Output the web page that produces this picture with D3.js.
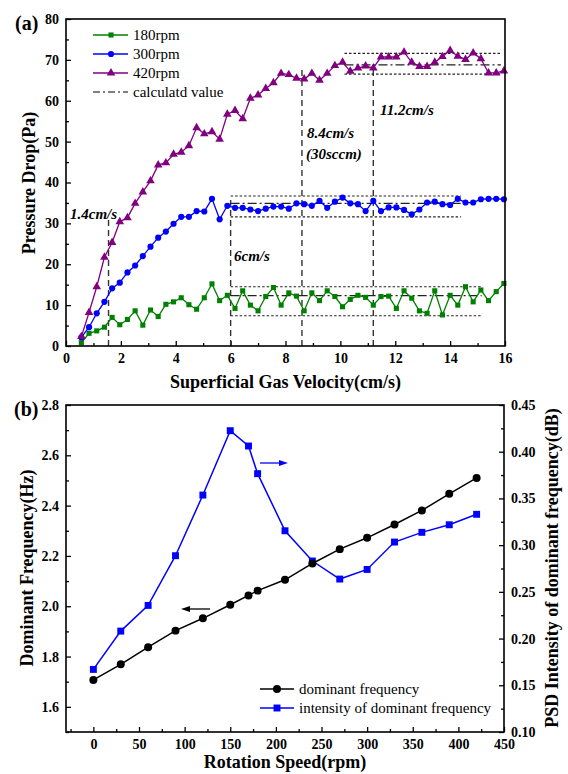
<!DOCTYPE html>
<html lang="en">
<head>
<meta charset="UTF-8">
<title>Pressure drop and dominant frequency</title>
<script src="https://cdn.jsdelivr.net/npm/d3@7"></script>
<style>
  body { margin: 0; background: #fff; }
  svg text { font-family: "Liberation Serif", "DejaVu Serif", serif; }
</style>
</head>
<body>
<svg id="chart" width="568" height="774"></svg>
<script>
// ---- panel (a) data: superficial gas velocity (cm/s) vs pressure drop (Pa)
const velocity = [0.56,0.84,1.12,1.4,1.68,1.96,2.24,2.52,2.8,3.08,3.36,3.64,3.92,4.2,4.48,4.76,5.04,5.32,5.6,5.88,
  6.16,6.44,6.72,7.0,7.28,7.56,7.84,8.12,8.4,8.68,8.96,9.24,9.52,9.8,10.08,10.36,10.64,10.92,11.2,11.48,11.76,12.04,
  12.32,12.6,12.88,13.16,13.44,13.72,14.0,14.28,14.56,14.84,15.12,15.4,15.68,15.96];
const p180 = [0.8,3.1,3.7,4.6,7.0,5.2,6.5,8.6,5.1,8.8,7.2,10.2,10.8,11.8,10.1,9.0,11.8,15.2,11.1,12.4,
  9.2,13.5,10.0,8.6,12.1,14.3,10.0,13.0,12.2,8.6,13.0,11.1,13.5,12.1,9.6,11.4,12.4,11.9,10.0,12.1,12.2,9.2,
  13.5,11.7,8.6,8.0,13.5,7.6,12.4,10.0,14.5,10.8,13.7,11.1,13.3,15.3];
const p300 = [2.1,4.6,8.0,10.8,14.1,15.5,18.0,19.7,22.0,24.3,26.5,28.0,29.9,31.6,31.6,33.0,32.9,36.0,31.0,34.3,
  33.8,33.8,33.4,33.0,33.6,34.1,34.1,33.6,34.9,34.7,34.3,35.5,33.8,35.3,36.3,34.9,34.7,33.0,35.5,33.0,33.9,33.9,
  33.3,32.2,33.4,35.1,35.3,34.7,34.5,36.0,35.1,35.1,35.9,36.0,36.0,35.9];
const p420 = [2.3,8.2,14.5,21.7,25.3,30.4,31.4,34.9,37.7,40.4,44.3,44.8,46.9,47.4,49.0,53.4,51.9,52.4,50.6,56.7,
  57.6,55.6,60.6,61.4,63.0,64.4,66.7,66.4,65.5,65.3,66.7,65.0,66.7,68.6,69.4,67.2,68.0,68.5,68.0,70.7,70.7,70.7,
  71.9,69.4,68.4,68.4,69.4,70.8,72.3,70.9,70.1,71.7,70.3,66.8,66.8,67.3];
const seriesNames = ["180rpm", "300rpm", "420rpm"];

// vertical dashed markers and how high they reach
const markerX = [1.55, 6.0, 8.6, 11.2];
const markerTop = [31, 36.5, 68, 67.5];
// bands around the calculated value
const bandX0 = [6.0, 6.0, 10.15];
const bandX1 = [15.15, 14.4, 15.85];
const bandTop = [14.5, 36.7, 71.6];
const bandMid = [12.3, 34.9, 68.8];
const bandBottom = [7.4, 31.6, 66.5];

// ---- panel (b) data
const rpm = [0,30,60,90,120,150,170,180,210,240,270,300,330,360,390,420];
const domFreq = [1.707,1.769,1.837,1.903,1.952,2.006,2.043,2.062,2.105,2.170,2.227,2.272,2.325,2.381,2.447,2.510];
const psdIntensity = [0.167,0.208,0.2355,0.2887,0.3536,0.4225,0.4061,0.3765,0.3154,0.283,0.2637,0.274,0.3033,0.3137,0.3218,0.333];

const svg = d3.select("#chart");
const colors = ["#008000", "#0000ff", "#800080"];
const serif = "'Liberation Serif', 'DejaVu Serif', serif";

function frame(g, x0, y0, x1, y1) {
  g.append("rect").attr("x", x0).attr("y", y0).attr("width", x1 - x0).attr("height", y1 - y0)
    .attr("fill", "none").attr("stroke", "#000").attr("stroke-width", 1.6);
}
function styleAxis(sel, fs) {
  sel.attr("font-family", null);
  sel.select(".domain").remove();
  sel.selectAll(".tick line").attr("stroke", "#000").attr("stroke-width", 1.3);
  sel.selectAll(".tick text").attr("fill", "#000").style("font-size", fs + "px").style("font-weight", "bold")
    .style("font-family", serif);
}

// ================= panel (a) =================
const xa = d3.scaleLinear().domain([0, 16]).range([66, 505]);
const ya = d3.scaleLinear().domain([0, 80]).range([346, 19]);
const ga = svg.append("g");

// minor ticks
ga.append("g").attr("transform", "translate(0,346)")
  .call(d3.axisBottom(xa).tickValues(d3.range(1, 16, 2)).tickSize(-3).tickFormat(""))
  .call(s => styleAxis(s, 14));
ga.append("g").attr("transform", "translate(66,0)")
  .call(d3.axisLeft(ya).tickValues(d3.range(5, 80, 10)).tickSize(-3).tickFormat(""))
  .call(s => styleAxis(s, 14));
ga.append("g").attr("transform", "translate(0,346)")
  .call(d3.axisBottom(xa).tickValues(d3.range(0, 17, 2)).tickSize(-5).tickPadding(7))
  .call(s => styleAxis(s, 14));
ga.append("g").attr("transform", "translate(66,0)")
  .call(d3.axisLeft(ya).tickValues(d3.range(0, 81, 10)).tickSize(-5).tickPadding(7))
  .call(s => styleAxis(s, 14));

// vertical dashed markers
markerX.forEach((v, i) => {
  ga.append("line").attr("x1", xa(v)).attr("x2", xa(v)).attr("y1", ya(0)).attr("y2", ya(markerTop[i]))
    .attr("stroke", "#333").attr("stroke-width", 1.4).attr("stroke-dasharray", "6,4");
});
// band lines
bandX0.forEach((x0, i) => {
  [[bandTop[i], "2.5,2"], [bandMid[i], "9,3,2,3"], [bandBottom[i], "2.5,2"]].forEach(([v, dash]) => {
    ga.append("line").attr("x1", xa(x0)).attr("x2", xa(bandX1[i])).attr("y1", ya(v)).attr("y2", ya(v))
      .attr("stroke", "#222").attr("stroke-width", 1.2).attr("stroke-dasharray", dash);
  });
});

const lineA = d3.line().x(d => xa(d[0])).y(d => ya(d[1]));
const symA = [d3.symbol(d3.symbolSquare, 26), d3.symbol(d3.symbolCircle, 30), d3.symbol(d3.symbolTriangle, 32)];
[p180, p300, p420].forEach((vals, i) => {
  const pts = velocity.map((v, j) => [v, vals[j]]);
  ga.append("path").attr("d", lineA(pts)).attr("fill", "none").attr("stroke", colors[i]).attr("stroke-width", 1.3);
  ga.selectAll(".m" + i).data(pts).enter().append("path")
    .attr("transform", d => `translate(${xa(d[0])},${ya(d[1])})`)
    .attr("d", symA[i]()).attr("fill", colors[i]);
});

frame(ga, 66, 19, 505, 346);

// annotations
const notes = [["1.4cm/s", 70, 219], ["6cm/s", 234, 261], ["8.4cm/s", 307, 138], ["(30sccm)", 306, 159], ["11.2cm/s", 380, 115]];
notes.forEach(n => {
  ga.append("text").attr("x", n[1]).attr("y", n[2]).text(n[0])
    .style("font-size", "15px").style("font-weight", "bold").style("font-style", "italic");
});

// legend (a)
const legA = ga.append("g");
seriesNames.forEach((name, i) => {
  const y = 35 + i * 19;
  legA.append("line").attr("x1", 93).attr("x2", 128).attr("y1", y).attr("y2", y).attr("stroke", colors[i]).attr("stroke-width", 1.3);
  legA.append("path").attr("transform", `translate(111,${y})`).attr("d", symA[i]()).attr("fill", colors[i]);
  legA.append("text").attr("x", 133).attr("y", y + 5).text(name).style("font-size", "15px");
});
legA.append("line").attr("x1", 93).attr("x2", 128).attr("y1", 92).attr("y2", 92)
  .attr("stroke", "#000").attr("stroke-width", 1.2).attr("stroke-dasharray", "7,3,2,3");
legA.append("text").attr("x", 133).attr("y", 97).text("calculatd value").style("font-size", "15px");

ga.append("text").attr("x", 15).attr("y", 30).text("(a)").style("font-size", "20px").style("font-weight", "bold");
ga.append("text").attr("x", xa(8)).attr("y", 388).attr("text-anchor", "middle").text("Superficial Gas Velocity(cm/s)")
  .style("font-size", "18px").style("font-weight", "bold");
ga.append("text").attr("transform", "translate(35,183) rotate(-90)").attr("text-anchor", "middle").text("Pressure Drop(Pa)")
  .style("font-size", "18px").style("font-weight", "bold");

// ================= panel (b) =================
const xb = d3.scaleLinear().domain([-30, 450]).range([66, 504]);
const yb = d3.scaleLinear().domain([1.5, 2.8]).range([732, 405]);
const yr = d3.scaleLinear().domain([0.10, 0.45]).range([732, 405]);
const gb = svg.append("g");

gb.append("g").attr("transform", "translate(0,732)")
  .call(d3.axisBottom(xb).tickValues(d3.range(-25, 450, 50)).tickSize(-3).tickFormat(""))
  .call(s => styleAxis(s, 14));
gb.append("g").attr("transform", "translate(0,732)")
  .call(d3.axisBottom(xb).tickValues(d3.range(0, 451, 50)).tickSize(-5).tickPadding(7))
  .call(s => styleAxis(s, 14));
gb.append("g").attr("transform", "translate(66,0)")
  .call(d3.axisLeft(yb).tickValues(d3.range(1.5, 2.8, 0.2)).tickSize(-3).tickFormat(""))
  .call(s => styleAxis(s, 14));
gb.append("g").attr("transform", "translate(66,0)")
  .call(d3.axisLeft(yb).tickValues([1.6, 1.8, 2.0, 2.2, 2.4, 2.6, 2.8]).tickSize(-5).tickPadding(7).tickFormat(d3.format(".1f")))
  .call(s => styleAxis(s, 14));
gb.append("g").attr("transform", "translate(504,0)")
  .call(d3.axisRight(yr).tickValues(d3.range(0.125, 0.45, 0.05)).tickSize(-3).tickFormat(""))
  .call(s => styleAxis(s, 14));
gb.append("g").attr("transform", "translate(504,0)")
  .call(d3.axisRight(yr).tickValues(d3.range(0.10, 0.451, 0.05)).tickSize(-5).tickPadding(7).tickFormat(d3.format(".2f")))
  .call(s => styleAxis(s, 14));

const symCircle = d3.symbol(d3.symbolCircle, 50);
const symSquare = d3.symbol(d3.symbolSquare, 48);
gb.append("path").attr("d", d3.line().x((d, i) => xb(rpm[i])).y(d => yr(d))(psdIntensity))
  .attr("fill", "none").attr("stroke", "#0000ff").attr("stroke-width", 1.5);
gb.append("path").attr("d", d3.line().x((d, i) => xb(rpm[i])).y(d => yb(d))(domFreq))
  .attr("fill", "none").attr("stroke", "#000").attr("stroke-width", 1.5);
gb.selectAll(".sq").data(psdIntensity).enter().append("path")
  .attr("transform", (d, i) => `translate(${xb(rpm[i])},${yr(d)})`).attr("d", symSquare()).attr("fill", "#0000ff");
gb.selectAll(".ci").data(domFreq).enter().append("path")
  .attr("transform", (d, i) => `translate(${xb(rpm[i])},${yb(d)})`).attr("d", symCircle()).attr("fill", "#000");

frame(gb, 66, 405, 504, 732);

// arrows
function arrow(g, x1, x2, y, color) {
  const dir = Math.sign(x2 - x1);
  g.append("line").attr("x1", x1).attr("x2", x2 - dir * 6).attr("y1", y).attr("y2", y).attr("stroke", color).attr("stroke-width", 1.3);
  g.append("path").attr("d", `M${x2},${y} L${x2 - dir * 9},${y - 3} L${x2 - dir * 9},${y + 3} Z`).attr("fill", color);
}
arrow(gb, 210, 181, 609, "#000");
arrow(gb, 260, 288, 463, "#0000ff");

// legend (b)
const legB = [["dominant frequency", "#000", symCircle], ["intensity of dominant frequency", "#0000ff", symSquare]];
legB.forEach((l, i) => {
  const y = 689 + i * 19;
  gb.append("line").attr("x1", 260).attr("x2", 294).attr("y1", y).attr("y2", y).attr("stroke", l[1]).attr("stroke-width", 1.5);
  gb.append("path").attr("transform", `translate(277,${y})`).attr("d", l[2]()).attr("fill", l[1]);
  gb.append("text").attr("x", 299).attr("y", y + 5).text(l[0]).style("font-size", "15px");
});

gb.append("text").attr("x", 14).attr("y", 416).text("(b)").style("font-size", "20px").style("font-weight", "bold");
gb.append("text").attr("x", 285).attr("y", 768).attr("text-anchor", "middle").text("Rotation Speed(rpm)")
  .style("font-size", "18px").style("font-weight", "bold");
gb.append("text").attr("transform", "translate(33,568) rotate(-90)").attr("text-anchor", "middle").text("Dominant Frequency(Hz)")
  .style("font-size", "18px").style("font-weight", "bold");
gb.append("text").attr("transform", "translate(558,568) rotate(-90)").attr("text-anchor", "middle").text("PSD Intensity of dominant frequency(dB)")
  .style("font-size", "18px").style("font-weight", "bold");
</script>
</body>
</html>
